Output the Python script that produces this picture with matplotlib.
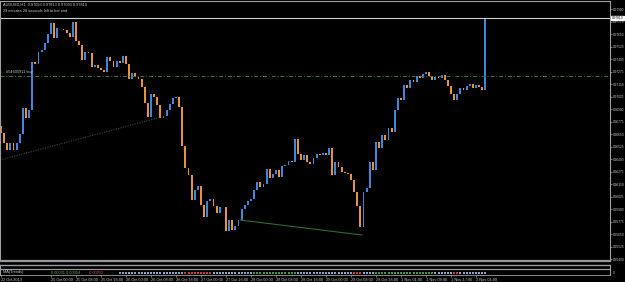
import numpy as np
import matplotlib.pyplot as plt
from matplotlib.transforms import blended_transform_factory

# ------------------------------------------------------------
# dados (AUDUSD H1, fechamentos)
# ------------------------------------------------------------
primeira_abertura = 0.96733
fechamentos = [
    0.96663, 0.96563, 0.96493, 0.96563, 0.96493, 0.96563, 0.96653, 0.96913, 0.96813, 0.96893,
    0.97373, 0.97353, 0.97473, 0.97493, 0.97563, 0.97653, 0.97763, 0.97613, 0.97713, 0.97708,
    0.97693, 0.97663, 0.97623, 0.97773, 0.97583, 0.97543, 0.97393, 0.97473, 0.97463, 0.97323,
    0.97343, 0.97313, 0.97293, 0.97273, 0.97423, 0.97383, 0.97323, 0.97383, 0.97363, 0.97433,
    0.97353, 0.97203, 0.97263, 0.97223, 0.97203, 0.97123, 0.96963, 0.96823, 0.97053, 0.97023,
    0.96943, 0.96813, 0.96833, 0.96893, 0.96953, 0.97013, 0.97023, 0.96923, 0.96533, 0.96313,
    0.96243, 0.95993, 0.96093, 0.96133, 0.95943, 0.95823, 0.95983, 0.96003, 0.95933, 0.95863,
    0.95923, 0.95918, 0.95683, 0.95793, 0.95693, 0.95733, 0.95793, 0.95903, 0.95943, 0.95983,
    0.96003, 0.96093, 0.96173, 0.96123, 0.96153, 0.96303, 0.96213, 0.96253, 0.96293, 0.96223,
    0.96333, 0.96343, 0.96383, 0.96373, 0.96603, 0.96453, 0.96393, 0.96443, 0.96373, 0.96353,
    0.96413, 0.96453, 0.96443, 0.96463, 0.96443, 0.96513, 0.96243, 0.96373, 0.96323, 0.96273,
    0.96263, 0.96253, 0.96193, 0.96073, 0.95933, 0.95723, 0.96073, 0.96113, 0.96373, 0.96293,
    0.96573, 0.96513, 0.96643, 0.96593, 0.96713, 0.96673, 0.96893, 0.97013, 0.96993, 0.97143,
    0.97113, 0.97193, 0.97173, 0.97233, 0.97213, 0.97253, 0.97273, 0.97233, 0.97193, 0.97223,
    0.97213, 0.97243, 0.97193, 0.97133, 0.97053, 0.96993, 0.97053, 0.97113, 0.97093, 0.97133,
    0.97153, 0.97113, 0.97143, 0.97123, 0.97093, 0.97813,
]

preco_bid = 0.97813
ordem_buy = 0.97233
rotulo_ordem = "#54605911 buy"

# linhas de tendência (índice da barra, preço)
tend1_x = [-0.3, 52.5]
tend1_y = [0.96393, 0.96833]
tend2_x = [76.5, 115.5]
tend2_y = [0.95793, 0.95643]

# eixo de preços
precos_ticks = [0.97900 - 0.00125 * k for k in range(21)]

# eixo de tempo
barras_tempo = [0, 16, 24, 32, 40, 48, 56, 64, 72, 80, 88, 96, 104, 112, 120, 128, 136, 144, 152]
rotulos_tempo = [
    "22 Oct 2013", "25 Oct 00:00", "25 Oct 08:00", "25 Oct 16:00", "26 Oct 00:00",
    "26 Oct 08:00", "26 Oct 16:00", "27 Oct 00:00", "27 Oct 16:00", "28 Oct 00:00",
    "28 Oct 08:00", "28 Oct 16:00", "29 Oct 00:00", "29 Oct 08:00", "29 Oct 16:00",
    "1 Nov 01:00", "1 Nov 09:00", "1 Nov 17:00", "2 Nov 01:00",
]

# estado do indicador na subjanela: (barra inicial, barra final, estado)
trechos_indicador = [
    (38, 58, "n"), (59, 67, "r"), (68, 80, "n"), (81, 94, "g"), (95, 112, "n"),
    (113, 115, "r"), (116, 119, "n"), (120, 138, "g"), (139, 144, "n"),
    (145, 146, "r"), (147, 155, "n"),
]

titulo1 = "AUDUSD,H1  0.97093 0.97813 0.97093 0.97813"
titulo2 = "29 minutes 28 seconds left to bar end"

# ------------------------------------------------------------
# figura
# ------------------------------------------------------------
AZUL = "#3f86dc"
LARANJA = "#e8923a"
CINZA = "#c8c8c8"
FONTE = "Liberation Sans"
FS = 2.8
FS_EIXO = 2.3

W, H = 625, 282
fig = plt.figure(figsize=(W / 100, H / 100), dpi=100, facecolor="black")

ax = fig.add_axes([0, (H - 261) / H, 610 / W, 260 / H], facecolor="black")

abert = np.array([primeira_abertura] + fechamentos[:-1])
fech = np.array(fechamentos)
idx = np.arange(len(fech))
cores = np.where(fech >= abert, AZUL, LARANJA)
altura = fech - abert
altura = np.where(np.abs(altura) < 0.00004, 0.00004, altura)
ax.bar(idx, altura, bottom=abert, width=0.6, color=cores, linewidth=0)

# linhas
ax.axhline(preco_bid, color="#d0d0d0", lw=0.8)
ax.axhline(ordem_buy, color="#3a7a3a", lw=0.7, ls=(0, (4, 2, 1, 2)))
ax.plot(tend1_x, tend1_y, color="#34503a", lw=0.8, ls=(0, (1, 1.2)))
ax.plot(tend2_x, tend2_y, color="#2f6a2f", lw=0.8)

ax.text(1.5, ordem_buy + 0.0002, rotulo_ordem, color=CINZA, fontsize=FS,
        family=FONTE, va="bottom", ha="left")

ax.set_xlim(-0.32, 194.88)
ax.set_ylim(0.95383, 0.97983)

ax.yaxis.tick_right()
ax.set_yticks(precos_ticks)
ax.set_yticklabels([f"{p:.5f}" for p in precos_ticks], color=CINZA, fontsize=FS_EIXO, family=FONTE)
ax.tick_params(axis="y", colors="#a0a0a0", length=1.5, width=0.5, pad=0.6, labelcolor=CINZA)
ax.set_xticks([])
for lado in ["left", "top", "right"]:
    ax.spines[lado].set_color("#a0a0a0")
    ax.spines[lado].set_linewidth(0.8)
ax.spines["bottom"].set_color("#9a9a9a")
ax.spines["bottom"].set_linewidth(1.6)

# rótulo do preço atual no eixo
ax.text(1.003, preco_bid, f"{preco_bid:.5f}", transform=blended_transform_factory(ax.transAxes, ax.transData),
        fontsize=FS_EIXO, family=FONTE, color="black", va="center", ha="left",
        bbox=dict(boxstyle="square,pad=0.15", fc="white", ec="white"), clip_on=False)

# título
fig.text(3 / W, 1 - 5 / H, titulo1, color=CINZA, fontsize=FS, family=FONTE, va="center")
fig.text(3 / W, 1 - 10.5 / H, titulo2, color=CINZA, fontsize=FS, family=FONTE, va="center")

# subjanela do indicador
sub = fig.add_axes([0, (H - 274.5) / H, 610 / W, 10 / H], facecolor="black")
sub.set_xlim(-0.32, 194.88)
sub.set_ylim(0, 1)
sub.axhline(0.55, color="#9a9a9a", lw=0.9)
cores_ind = {"n": "#8aa6cc", "g": "#3f9a46", "r": "#cc3a3a"}
for a, b, est in trechos_indicador:
    xs = np.arange(a, b + 1)
    sub.scatter(xs, np.full(len(xs), 0.2), s=0.6, marker="s", color=cores_ind[est], linewidths=0)
sub.text(0.5, 0.2, "MA(Trends) ", color="#b8c8dc", fontsize=FS, family=FONTE, va="center")
sub.text(16, 0.2, "0.00031 0.00054", color="#5fb35f", fontsize=FS, family=FONTE, va="center")
sub.text(28, 0.2, "-0.00012", color="#d05050", fontsize=FS, family=FONTE, va="center")
sub.text(1.005, 0.2, "0", transform=sub.transAxes, color=CINZA, fontsize=FS_EIXO, family=FONTE, va="center")

for lado in ["left", "right"]:
    sub.spines[lado].set_color("#a0a0a0")
    sub.spines[lado].set_linewidth(0.8)
sub.spines["top"].set_color("#9a9a9a")
sub.spines["top"].set_linewidth(1.0)
sub.spines["bottom"].set_color("#a0a0a0")
sub.spines["bottom"].set_linewidth(0.6)
sub.set_yticks([])
sub.set_xticks(barras_tempo)
sub.set_xticklabels(rotulos_tempo, ha="left", color=CINZA, fontsize=FS, family=FONTE)
sub.tick_params(axis="x", colors="#a0a0a0", length=1.5, width=0.5, pad=0.8, labelcolor=CINZA)

fig.savefig("out.png", dpi=100, facecolor="black")
